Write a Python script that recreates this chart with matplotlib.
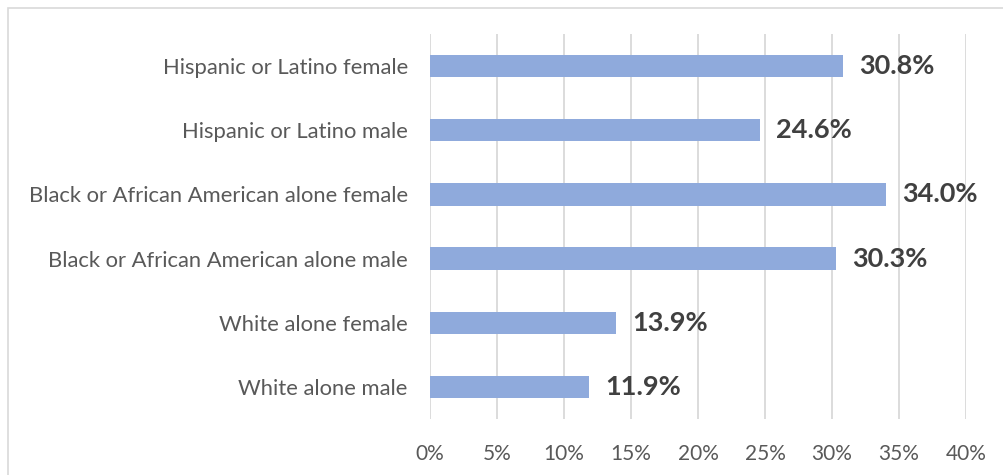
import matplotlib.pyplot as plt
from matplotlib.patches import Rectangle

categories = ['White alone male', 'White alone female',
              'Black or African American alone male', 'Black or African American alone female',
              'Hispanic or Latino male', 'Hispanic or Latino female']
values = [11.9, 13.9, 30.3, 34.0, 24.6, 30.8]
xticks = [0, 5, 10, 15, 20, 25, 30, 35, 40]

plt.rcParams['font.family'] = ['Lato', 'DejaVu Sans']

fig = plt.figure(figsize=(10.04, 4.75), dpi=100)
ax = fig.add_axes([0.4283, 0.1179, 0.5339, 0.8105])

# outer chart border (partially cut off like the reference)
fig.patches.append(Rectangle((8 / 1004, -0.1), 1.2, 1 - 8 / 475 + 0.1,
                             transform=fig.transFigure, fill=False,
                             edgecolor='#D9D9D9', linewidth=1.2))

ypos = range(len(categories))
ax.barh(ypos, values, height=0.35, color='#8FAADC', zorder=3)
for y, v in zip(ypos, values):
    ax.text(v + 1.2, y, f'{v:.1f}%', va='center', ha='left',
            fontsize=19.5, fontweight='bold', color='#404040')

ax.set_xlim(0, 40)
ax.set_ylim(-0.5, len(categories) - 0.5)
ax.set_xticks(xticks)
ax.set_xticklabels([f'{t}%' for t in xticks])
ax.set_yticks(list(ypos))
ax.set_yticklabels(categories, fontsize=15.8)
ax.tick_params(axis='both', length=0, labelcolor='#595959')
ax.tick_params(axis='x', pad=18, labelsize=15)
ax.tick_params(axis='y', pad=16)

ax.xaxis.grid(True, color='#D9D9D9', linewidth=1.3, zorder=0)
ax.set_axisbelow(True)
for s in ax.spines.values():
    s.set_visible(False)

fig.savefig('out.png', dpi=100)
